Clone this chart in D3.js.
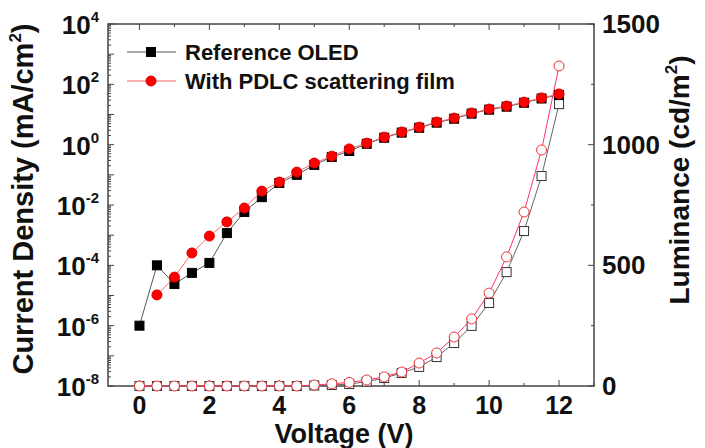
<!DOCTYPE html>
<html>
<head>
<meta charset="utf-8">
<script src="https://cdn.jsdelivr.net/npm/d3@7"></script>
<style>
  body { margin: 0; background: #fff; }
  text { font-family: Arial, 'Liberation Sans', sans-serif; font-weight: bold; fill: #111; }
</style>
</head>
<body>
<div class="canvas"></div>
<script>
const voltage = [0, 0.5, 1, 1.5, 2, 2.5, 3, 3.5, 4, 4.5, 5, 5.5, 6, 6.5, 7, 7.5, 8, 8.5, 9, 9.5, 10, 10.5, 11, 11.5, 12]

// current density, log10 of mA/cm2
const refJlog = [-6.0, -4.0, -4.62, -4.25, -3.92, -2.93, -2.23, -1.74, -1.27, -1.0, -0.67, -0.41, -0.21, 0.03, 0.23, 0.40, 0.56, 0.73, 0.86, 1.03, 1.16, 1.26, 1.39, 1.53, 1.65]
const pdlcJlog = [null, -4.98, -4.39, -3.59, -3.03, -2.56, -2.10, -1.54, -1.24, -0.91, -0.61, -0.38, -0.14, 0.05, 0.25, 0.42, 0.58, 0.75, 0.88, 1.05, 1.18, 1.28, 1.41, 1.55, 1.68]

// luminance, cd/m2
const refLum = [0, 0, 0, 0, 0, 0, 0, 0, 0, 0, 2, 4, 8, 18, 33, 54, 79, 120, 178, 249, 344, 472, 642, 870, 1168]
const pdlcLum = [0, 0, 0, 0, 0, 0, 0, 0, 0, 0, 4, 9, 15, 25, 38, 58, 95, 137, 203, 278, 385, 535, 721, 978, 1326]

const xTicks = [0, 2, 4, 6, 8, 10, 12]
const jExponents = [4, 2, 0, -2, -4, -6, -8]
const lumTicks = [0, 500, 1000, 1500]

const W = 705, H = 448
const plot = { left: 108, right: 594, top: 24, bottom: 386 }

const svg = d3.select('.canvas')
    .append('svg')
    .attr('width', W)
    .attr('height', H)

const x = d3.scaleLinear().domain([-0.9, 13]).range([plot.left, plot.right])
const yJ = d3.scaleLog().domain([1e-8, 1e4]).range([plot.bottom, plot.top])
const yL = d3.scaleLinear().domain([0, 1500]).range([plot.bottom, plot.top])

//frame ticks, all pointing inward
const tickG = svg.append('g').attr('stroke', '#444').attr('stroke-width', 1)

d3.range(0, 14, 1).forEach(v => {
    const len = v % 2 === 0 ? 6 : 3
    tickG.append('line').attr('x1', x(v)).attr('x2', x(v)).attr('y1', plot.bottom).attr('y2', plot.bottom - len)
    tickG.append('line').attr('x1', x(v)).attr('x2', x(v)).attr('y1', plot.top).attr('y2', plot.top + len)
})

d3.range(-8, 4).forEach(e => {
    d3.range(1, 10).forEach(m => {
        const v = m * Math.pow(10, e)
        const len = m === 1 ? 6 : 3
        tickG.append('line').attr('x1', plot.left).attr('x2', plot.left + len).attr('y1', yJ(v)).attr('y2', yJ(v))
    })
})
tickG.append('line').attr('x1', plot.left).attr('x2', plot.left + 6).attr('y1', yJ(1e4)).attr('y2', yJ(1e4))

d3.range(0, 1501, 250).forEach(v => {
    const len = v % 500 === 0 ? 6 : 3
    tickG.append('line').attr('x1', plot.right).attr('x2', plot.right - len).attr('y1', yL(v)).attr('y2', yL(v))
})

svg.append('rect')
    .attr('x', plot.left).attr('y', plot.top)
    .attr('width', plot.right - plot.left).attr('height', plot.bottom - plot.top)
    .attr('fill', 'none').attr('stroke', '#444').attr('stroke-width', 1.5)

//tick labels
svg.selectAll('.xlab').data(xTicks).enter().append('text')
    .attr('x', d => x(d)).attr('y', 414)
    .attr('text-anchor', 'middle').attr('font-size', 25)
    .text(d => d)

const jLab = svg.selectAll('.jlab').data(jExponents).enter().append('text')
    .attr('x', 99).attr('y', d => yJ(Math.pow(10, d)) + 10)
    .attr('text-anchor', 'end').attr('font-size', 26)
jLab.append('tspan').text('10')
jLab.append('tspan').attr('dy', -12).attr('font-size', 15).text(d => d)

svg.selectAll('.llab').data(lumTicks).enter().append('text')
    .attr('x', 602).attr('y', d => yL(d) + 9)
    .attr('font-size', 26)
    .text(d => d)

//axis titles
svg.append('text')
    .attr('x', 344).attr('y', 443)
    .attr('text-anchor', 'middle').attr('font-size', 27)
    .text('Voltage (V)')

const yTitle = svg.append('text')
    .attr('transform', `translate(33, 199) rotate(-90)`)
    .attr('text-anchor', 'middle').attr('font-size', 29)
yTitle.append('tspan').text('Current Density (mA/cm')
yTitle.append('tspan').attr('dy', -12).attr('font-size', 17).text('2')
yTitle.append('tspan').attr('dy', 12).text(')')

const rTitle = svg.append('text')
    .attr('transform', `translate(689, 180) rotate(-90)`)
    .attr('text-anchor', 'middle').attr('font-size', 28)
rTitle.append('tspan').text('Luminance (cd/m')
rTitle.append('tspan').attr('dy', -12).attr('font-size', 17).text('2')
rTitle.append('tspan').attr('dy', 12).text(')')

//series
const series = [
    { y: refLum, scale: yL, line: '#666', shape: 'square', fill: '#fff', stroke: '#333' },
    { y: pdlcLum, scale: yL, line: '#f36', shape: 'circle', fill: '#fff', stroke: '#e33' },
    { y: refJlog, scale: yJ, log: true, line: '#555', shape: 'square', fill: '#000', stroke: '#000' },
    { y: pdlcJlog, scale: yJ, log: true, line: '#f66', shape: 'circle', fill: '#f00', stroke: '#d00' }
]

const drawMarker = (g, shape, cx, cy, fill, stroke) => {
    if (shape === 'square') {
        g.append('rect').attr('x', cx - 4.5).attr('y', cy - 4.5).attr('width', 9).attr('height', 9)
            .attr('fill', fill).attr('stroke', stroke).attr('stroke-width', 1)
    } else {
        g.append('circle').attr('cx', cx).attr('cy', cy).attr('r', 5)
            .attr('fill', fill).attr('stroke', stroke).attr('stroke-width', 1)
    }
}

series.forEach(s => {
    const pts = voltage.map((v, i) => [v, s.y[i]]).filter(p => p[1] !== null)
    const yv = d => s.log ? s.scale(Math.pow(10, d)) : s.scale(d)
    const line = d3.line().x(p => x(p[0])).y(p => yv(p[1]))
    svg.append('path').attr('d', line(pts)).attr('fill', 'none').attr('stroke', s.line).attr('stroke-width', 1)
    const g = svg.append('g')
    pts.forEach(p => drawMarker(g, s.shape, x(p[0]), yv(p[1]), s.fill, s.stroke))
})

//legend
const legendItems = [
    { label: 'Reference OLED', y: 52, line: '#555', shape: 'square', fill: '#000', stroke: '#000' },
    { label: 'With PDLC scattering film', y: 81, line: '#f66', shape: 'circle', fill: '#f00', stroke: '#d00' }
]
legendItems.forEach(l => {
    svg.append('line').attr('x1', 127).attr('x2', 176).attr('y1', l.y).attr('y2', l.y)
        .attr('stroke', l.line).attr('stroke-width', 1)
    drawMarker(svg, l.shape, 151, l.y, l.fill, l.stroke)
    svg.append('text').attr('x', 185).attr('y', l.y + 8).attr('font-size', 22).text(l.label)
})
</script>
</body>
</html>
